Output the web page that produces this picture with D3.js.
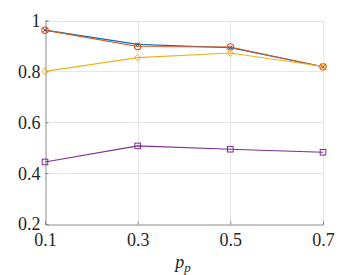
<!DOCTYPE html>
<html>
<head>
<meta charset="utf-8">
<script src="https://cdn.jsdelivr.net/npm/d3@7"></script>
<style>
  body { margin: 0; background: #fff; }
  svg text { fill: #262626; }
</style>
</head>
<body>
<svg id="chart" width="359" height="275"></svg>
<script>
// p_p values along x
const pp = [0.1, 0.3, 0.5, 0.7];
const blueVals = [0.962, 0.906, 0.893, 0.818];
const orangeVals = [0.962, 0.898, 0.896, 0.818];
const yellowVals = [0.800, 0.854, 0.872, 0.819];
const purpleVals = [0.444, 0.507, 0.494, 0.482];
const yTicks = [0.2, 0.4, 0.6, 0.8, 1];

const serif = "'Liberation Serif', 'DejaVu Serif', Tinos, 'Times New Roman', 'Noto Serif', serif";

const series = [
  { vals: blueVals, color: '#0072BD', marker: 'x' },
  { vals: orangeVals, color: '#D95319', marker: 'circle' },
  { vals: yellowVals, color: '#EDB120', marker: 'diamond' },
  { vals: purpleVals, color: '#7E2F8E', marker: 'square' }
];

const svg = d3.select('#chart');
const x = d3.scaleLinear().domain([0.1, 0.7]).range([45, 323]);
const y = d3.scaleLinear().domain([0.2, 1]).range([224, 20.5]);

// grid
const grid = svg.append('g').attr('stroke', '#e6e6e6').attr('stroke-width', 1);
grid.selectAll('line.gx').data(pp.slice(1)).enter().append('line')
  .attr('x1', d => Math.round(x(d)) + 0.5).attr('x2', d => Math.round(x(d)) + 0.5)
  .attr('y1', y(0.2)).attr('y2', y(1));
grid.selectAll('line.gy').data(yTicks.slice(1)).enter().append('line')
  .attr('y1', d => Math.round(y(d)) + 0.5).attr('y2', d => Math.round(y(d)) + 0.5)
  .attr('x1', x(0.1)).attr('x2', x(0.7));

// axes
const xAxis = d3.axisBottom(x).tickValues(pp).tickSize(-3).tickPadding(9).tickFormat(d3.format('.1f'));
const yAxis = d3.axisLeft(y).tickValues(yTicks).tickSize(-3).tickPadding(5)
  .tickFormat(d => d === 1 ? '1' : d3.format('.1f')(d));

const gx = svg.append('g').attr('transform', `translate(0,${Math.round(y(0.2)) + 0.5})`).call(xAxis);
const gy = svg.append('g').attr('transform', `translate(${Math.round(x(0.1)) + 0.5},0)`).call(yAxis);
[gx, gy].forEach(g => {
  g.attr('font-family', null).attr('font-size', null);
  g.select('.domain').attr('stroke', '#8c8c8c');
  g.selectAll('.tick line').attr('stroke', '#8c8c8c');
  g.selectAll('.tick text').style('font-size', '18px').attr('fill', '#262626')
    .style('font-family', serif);
});
gy.selectAll('.tick text').attr('dy', '0.33em');

// x label
const lbl = svg.append('text').attr('x', 183).attr('y', 268).attr('text-anchor', 'middle')
  .style('font-family', serif).style('font-size', '18px').style('font-style', 'italic');
lbl.append('tspan').text('p');
lbl.append('tspan').attr('dy', 4).style('font-size', '13px').text('p');

// lines and markers
const line = d3.line().x((d, i) => x(pp[i])).y(d => y(d));
series.forEach(s => {
  const g = svg.append('g');
  g.append('path').attr('d', line(s.vals)).attr('fill', 'none')
    .attr('stroke', s.color).attr('stroke-width', 1.1);
  const m = g.selectAll('.m').data(s.vals).enter().append('g')
    .attr('transform', (d, i) => `translate(${x(pp[i])},${y(d)})`);
  if (s.marker === 'circle') {
    m.append('circle').attr('r', 3.2).attr('fill', 'none').attr('stroke', s.color).attr('stroke-width', 1.1);
  } else if (s.marker === 'diamond') {
    m.append('path').attr('d', 'M0,-3.5L3,0L0,3.5L-3,0Z').attr('fill', 'none').attr('stroke', s.color).attr('stroke-width', 1);
  } else if (s.marker === 'square') {
    m.append('rect').attr('x', -2.8).attr('y', -2.8).attr('width', 5.6).attr('height', 5.6)
      .attr('fill', 'none').attr('stroke', s.color).attr('stroke-width', 1);
  } else {
    m.append('path').attr('d', 'M-1.8,-1.8L1.8,1.8M-1.8,1.8L1.8,-1.8').attr('stroke', '#1f3f6e').attr('stroke-width', 1);
  }
});
</script>
</body>
</html>
